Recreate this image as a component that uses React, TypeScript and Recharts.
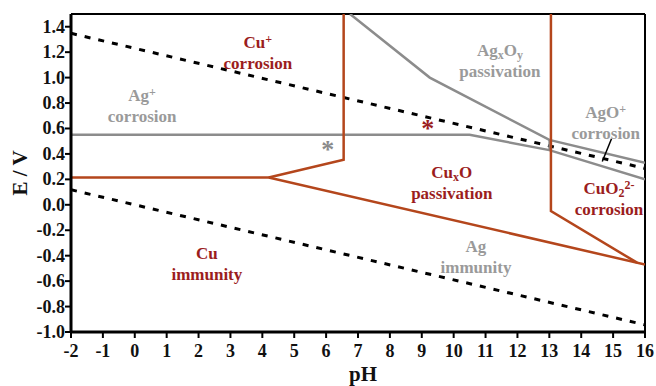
import {
  ComposedChart,
  Line,
  Scatter,
  XAxis,
  YAxis,
  ReferenceLine,
  Label,
} from 'recharts'

const X_TICKS = [-2, -1, 0, 1, 2, 3, 4, 5, 6, 7, 8, 9, 10, 11, 12, 13, 14, 15, 16]
const Y_TICKS = [-1.0, -0.8, -0.6, -0.4, -0.2, 0.0, 0.2, 0.4, 0.6, 0.8, 1.0, 1.2, 1.4]

// water stability lines
const O2_LINE = [
  { x: -2, y: 1.348 },
  { x: 16, y: 0.286 },
]
const H2_LINE = [
  { x: -2, y: 0.118 },
  { x: 16, y: -0.944 },
]

// silver boundaries
const AG_LOWER = [
  { x: -2, y: 0.55 },
  { x: 10.5, y: 0.55 },
  { x: 13.0, y: 0.43 },
  { x: 16, y: 0.2 },
]
const AG_UPPER = [
  { x: 6.75, y: 1.5 },
  { x: 9.25, y: 1.0 },
  { x: 13.0, y: 0.51 },
  { x: 16, y: 0.33 },
]
const AG_STEP = [
  { x: 13.0, y: 0.51 },
  { x: 13.0, y: 0.43 },
]
const AGO_POINTER = [
  { x: 14.95, y: 0.52 },
  { x: 14.66, y: 0.34 },
]

// copper boundaries
const CU_IMMUNITY = [
  { x: -2, y: 0.215 },
  { x: 4.2, y: 0.215 },
  { x: 16, y: -0.47 },
]
const CU_PLUS = [
  { x: 4.2, y: 0.215 },
  { x: 6.55, y: 0.355 },
  { x: 6.55, y: 1.5 },
]
const CU_ALKALINE = [
  { x: 13.05, y: 1.5 },
  { x: 13.05, y: -0.05 },
  { x: 15.75, y: -0.455 },
]

type Seg = [string, '' | 'sup' | 'sub']
type RegionLabel = { x: number; y: number; color: string; lines: Seg[][] }

const CU_RED = '#9b1d1d'
const AG_GREY = '#9a9a9a'

const LABELS: RegionLabel[] = [
  { x: 3.86, y: 1.28, color: CU_RED, lines: [[['Cu', ''], ['+', 'sup']], [['corrosion', '']]] },
  { x: 0.23, y: 0.86, color: AG_GREY, lines: [[['Ag', ''], ['+', 'sup']], [['corrosion', '']]] },
  {
    x: 11.45,
    y: 1.22,
    color: AG_GREY,
    lines: [[['Ag', ''], ['x', 'sub'], ['O', ''], ['y', 'sub']], [['passivation', '']]],
  },
  { x: 14.77, y: 0.73, color: AG_GREY, lines: [[['AgO', ''], ['+', 'sup']], [['corrosion', '']]] },
  {
    x: 9.94,
    y: 0.26,
    color: CU_RED,
    lines: [[['Cu', ''], ['x', 'sub'], ['O', '']], [['passivation', '']]],
  },
  {
    x: 14.87,
    y: 0.13,
    color: CU_RED,
    lines: [[['CuO', ''], ['2', 'sub'], ['2-', 'sup']], [['corrosion', '']]],
  },
  { x: 2.26, y: -0.38, color: CU_RED, lines: [[['Cu', '']], [['immunity', '']]] },
  { x: 10.7, y: -0.32, color: AG_GREY, lines: [[['Ag', '']], [['immunity', '']]] },
]

const STARS = [
  { x: 6.05, y: 0.46, color: '#8a8a8a' },
  { x: 9.19, y: 0.63, color: '#9b1d1d' },
]

const ORANGE = '#b4461c'
const GREY = '#8c8c8c'
const FONT = '"Liberation Serif", "DejaVu Serif", serif'

const textStyle = { fontFamily: FONT, fontWeight: 700 }

function XTick(props: any) {
  const { x, y, payload } = props
  return (
    <text x={x} y={y + 16} textAnchor="middle" fontSize={18} fill="#111" style={textStyle}>
      {String(payload.value)}
    </text>
  )
}

function YTick(props: any) {
  const { x, y, payload } = props
  return (
    <text x={x} y={y + 6} textAnchor="end" fontSize={18} fill="#111" style={textStyle}>
      {Number(payload.value).toFixed(1)}
    </text>
  )
}

function RegionText(props: any) {
  const { cx, cy, payload } = props
  if (cx == null || cy == null) return null
  const p = payload as RegionLabel
  return (
    <text x={cx} y={cy} textAnchor="middle" fontSize={17} fill={p.color} style={textStyle}>
      {p.lines.map((line, i) => (
        <tspan key={i} x={cx} dy={i === 0 ? 6 : 21}>
          {line.map(([t, kind], j) =>
            kind === '' ? (
              <tspan key={j}>{t}</tspan>
            ) : (
              <tspan key={j} fontSize={12} baselineShift={kind === 'sup' ? '45%' : '-25%'}>
                {t}
              </tspan>
            ),
          )}
        </tspan>
      ))}
    </text>
  )
}

function StarMark(props: any) {
  const { cx, cy, payload } = props
  if (cx == null || cy == null) return null
  return (
    <text x={cx} y={cy + 12} textAnchor="middle" fontSize={26} fill={payload.color} style={textStyle}>
      *
    </text>
  )
}

export default function App() {
  return (
    <div style={{ position: 'absolute', left: 0, top: 0, width: 656, height: 386, background: '#fff' }}>
      <ComposedChart width={656} height={386} margin={{ top: 14, right: 11, bottom: 0, left: 0 }}>
        <XAxis
          type="number"
          dataKey="x"
          domain={[-2, 16]}
          ticks={X_TICKS}
          interval={0}
          allowDataOverflow
          tick={<XTick />}
          tickSize={6}
          tickMargin={3}
          height={54}
          axisLine={{ stroke: '#000', strokeWidth: 3 }}
          tickLine={{ stroke: '#000', strokeWidth: 2 }}
        >
          <Label
            value="pH"
            position="insideBottom"
            offset={5}
            dx={5}
            style={{ fontSize: 21, fontWeight: 700, fill: '#111', fontFamily: FONT }}
          />
        </XAxis>
        <YAxis
          type="number"
          dataKey="y"
          domain={[-1, 1.5]}
          ticks={Y_TICKS}
          interval={0}
          allowDataOverflow
          tick={<YTick />}
          tickSize={6}
          tickMargin={0}
          width={71}
          axisLine={{ stroke: '#000', strokeWidth: 3 }}
          tickLine={{ stroke: '#000', strokeWidth: 2 }}
        >
          <Label
            value="E / V"
            angle={-90}
            position="insideLeft"
            offset={20}
            style={{ fontSize: 21, fontWeight: 700, fill: '#111', fontFamily: FONT, textAnchor: 'middle' }}
          />
        </YAxis>
        <ReferenceLine y={1.5} stroke="#000" strokeWidth={2} />
        <ReferenceLine x={16} stroke="#000" strokeWidth={2} />

        <Line data={O2_LINE} dataKey="y" stroke="#000" strokeWidth={3} strokeDasharray="6 8" dot={false} isAnimationActive={false} />
        <Line data={H2_LINE} dataKey="y" stroke="#000" strokeWidth={3} strokeDasharray="6 8" dot={false} isAnimationActive={false} />

        <Line data={AG_LOWER} dataKey="y" stroke={GREY} strokeWidth={2.5} dot={false} isAnimationActive={false} />
        <Line data={AG_UPPER} dataKey="y" stroke={GREY} strokeWidth={2.5} dot={false} isAnimationActive={false} />
        <Line data={AG_STEP} dataKey="y" stroke={GREY} strokeWidth={2} dot={false} isAnimationActive={false} />
        <Line data={AGO_POINTER} dataKey="y" stroke="#000" strokeWidth={1.5} dot={false} isAnimationActive={false} />

        <Line data={CU_IMMUNITY} dataKey="y" stroke={ORANGE} strokeWidth={2.5} dot={false} isAnimationActive={false} />
        <Line data={CU_PLUS} dataKey="y" stroke={ORANGE} strokeWidth={2.5} dot={false} isAnimationActive={false} />
        <Line data={CU_ALKALINE} dataKey="y" stroke={ORANGE} strokeWidth={2.5} dot={false} isAnimationActive={false} />

        <Scatter data={STARS} shape={StarMark} isAnimationActive={false} />
        <Scatter data={LABELS} shape={RegionText} isAnimationActive={false} />
      </ComposedChart>
    </div>
  )
}
